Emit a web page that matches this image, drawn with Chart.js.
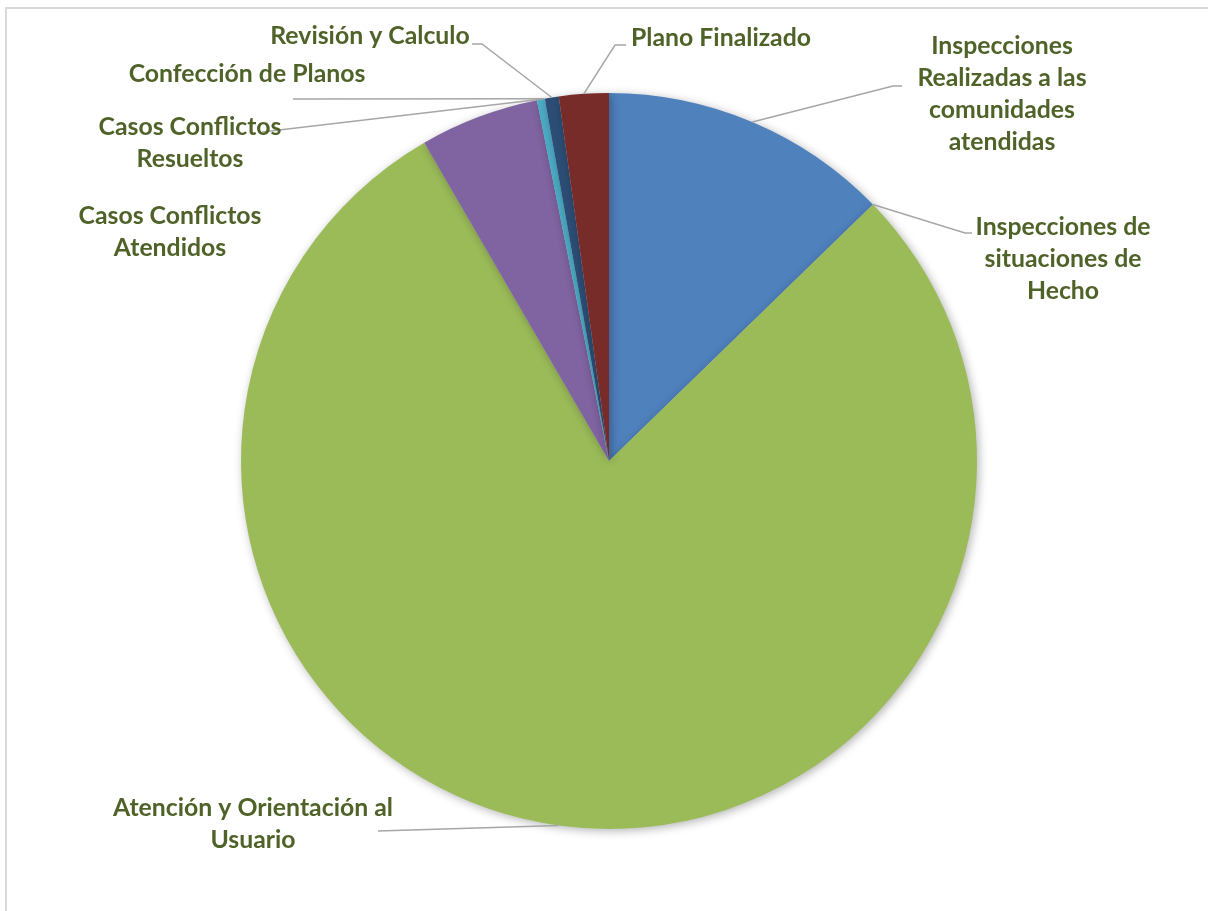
<!DOCTYPE html>
<html>
<head>
<meta charset="utf-8">
<script src="https://cdn.jsdelivr.net/npm/chart.js@4.4.1/dist/chart.umd.min.js"></script>
<style>
    html, body { margin: 0; padding: 0; background: #fff; overflow: hidden; }
    #wrap { position: relative; width: 1208px; height: 911px; }
    #frame { position: absolute; left: 5px; top: 7px; width: 1400px; height: 1100px; border: 2px solid #d9d9d9; }
    canvas { position: absolute; left: 0; top: 0; }
</style>
</head>
<body>
<div id="wrap">
    <div id="frame"></div>
    <canvas id="pieChart" width="1208" height="911"></canvas>
</div>
<script>
// Data
const categories = [
    ['Inspecciones', 'Realizadas a las', 'comunidades', 'atendidas'],
    ['Inspecciones de', 'situaciones de', 'Hecho'],
    ['Atención y Orientación al', 'Usuario'],
    ['Casos Conflictos', 'Atendidos'],
    ['Casos Conflictos', 'Resueltos'],
    ['Confección de Planos'],
    ['Revisión y Calculo'],
    ['Plano Finalizado']
];
const values = [146, 0, 905, 60, 4, 0, 7, 25];
const sliceColors = ['#4F81BD', '#C0504D', '#9BBB59', '#8064A2', '#4BACC6', '#F79646', '#2C4D75', '#772C2A'];

// Label placement (manual, like the original sheet)
// cx/cy = centre of first text line, end = where leader meets the label, elbow = optional bend
const labelLayout = [
    { cx: 1002, cy: 46, elbow: [893, 86], end: [902, 86] },
    { cx: 1063, cy: 227, elbow: [965, 233], end: [972, 233] },
    { cx: 253, cy: 808, end: [378, 831] },
    { cx: 170, cy: 216, end: null },
    { cx: 190, cy: 127, end: [262, 132] },
    { cx: 247, cy: 74, end: [293, 99] },
    { cx: 370, cy: 36, elbow: [482, 44], end: [472, 44] },
    { cx: 721, cy: 38, elbow: [615, 45], end: [626, 45] }
];
const lineHeight = 32;

const pieShadow = {
    id: 'pieShadow',
    beforeDatasetsDraw(chart) {
        const ctx = chart.ctx;
        ctx.save();
        ctx.shadowColor = 'rgba(0,0,0,0.3)';
        ctx.shadowBlur = 10;
        ctx.shadowOffsetX = 2;
        ctx.shadowOffsetY = 2;
    },
    afterDatasetsDraw(chart) {
        chart.ctx.restore();
    }
};

const outsideLabels = {
    id: 'outsideLabels',
    afterDraw(chart) {
        const ctx = chart.ctx;
        const arcs = chart.getDatasetMeta(0).data;
        ctx.save();
        // leader lines
        ctx.strokeStyle = '#a6a6a6';
        ctx.lineWidth = 1.5;
        arcs.forEach((arc, i) => {
            const lay = labelLayout[i];
            if (!lay.end) return;
            const mid = (arc.startAngle + arc.endAngle) / 2;
            const ax = arc.x + Math.cos(mid) * arc.outerRadius;
            const ay = arc.y + Math.sin(mid) * arc.outerRadius;
            ctx.beginPath();
            ctx.moveTo(ax, ay);
            if (lay.elbow) ctx.lineTo(lay.elbow[0], lay.elbow[1]);
            ctx.lineTo(lay.end[0], lay.end[1]);
            ctx.stroke();
        });
        // label text
        ctx.fillStyle = '#4F6228';
        ctx.font = 'bold 24.8px Lato';
        ctx.textAlign = 'center';
        ctx.textBaseline = 'middle';
        categories.forEach((lines, i) => {
            const lay = labelLayout[i];
            lines.forEach((t, k) => ctx.fillText(t, lay.cx, lay.cy + k * lineHeight));
        });
        ctx.restore();
    }
};

new Chart(document.getElementById('pieChart'), {
    type: 'pie',
    data: {
        labels: categories.map(c => c.join(' ')),
        datasets: [{
            data: values,
            backgroundColor: sliceColors,
            borderWidth: 0
        }]
    },
    options: {
        responsive: false,
        animation: false,
        layout: { padding: { left: 241, right: 231, top: 93, bottom: 82 } },
        plugins: {
            legend: { display: false },
            tooltip: { enabled: false }
        }
    },
    plugins: [pieShadow, outsideLabels]
});
</script>
</body>
</html>
